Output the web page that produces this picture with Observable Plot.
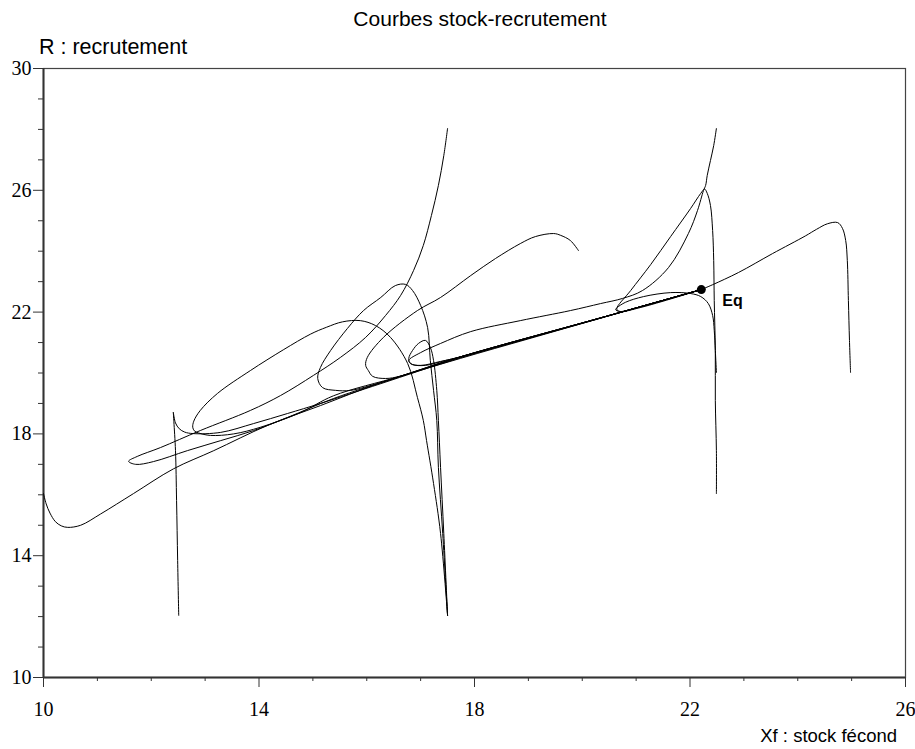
<!DOCTYPE html>
<html><head><meta charset="utf-8">
<script src="https://cdn.jsdelivr.net/npm/d3@7"></script>
<script src="https://cdn.jsdelivr.net/npm/@observablehq/plot@0.6"></script>
<style>body{margin:0;background:#fff} svg{display:block}</style>
</head><body><div id="chart"></div>
<script>
// Tick values
const xMajor = [10, 14, 18, 22, 26];
const yMajor = [10, 14, 18, 22, 26, 30];
const xMinor = [11, 12, 13, 15, 16, 17, 19, 20, 21, 23, 24, 25];
const yMinor = [11, 12, 13, 15, 16, 17, 19, 20, 21, 23, 24, 25, 27, 28, 29];
const eqPoint = [[22.21, 22.74]];

// Trajectories (Xf, R)
const trajA = [[10.00,16.04],[10.05,15.70],[10.12,15.40],[10.22,15.12],[10.33,14.98],[10.45,14.93],[10.69,15.00],[11.06,15.37],[11.67,16.04],[12.41,16.85],[13.16,17.45],[14.16,18.28],[15.14,18.93],[16.26,19.68],[17.74,20.48],[19.00,21.12],[20.34,21.80],[22.21,22.74]];
const trajB1 = [[12.51,12.04],[12.49,13.84],[12.47,15.81],[12.45,17.45],[12.42,18.40],[12.41,18.70]];
const trajB2 = [[12.41,18.70],[12.45,18.36],[12.52,18.17],[12.62,18.06],[12.78,18.01],[13.29,18.05],[13.90,18.34],[14.53,18.67],[15.14,19.00],[16.26,19.65],[17.74,20.50],[20.34,21.80],[22.21,22.74]];
const trajC = [[17.50,12.04],[17.37,14.73],[17.24,16.37],[17.11,17.78],[17.05,18.44],[16.94,19.20],[16.76,20.31],[16.44,21.17],[16.16,21.56],[15.88,21.72],[15.55,21.68],[15.25,21.50],[14.96,21.28],[14.45,20.76],[13.84,20.08],[13.23,19.33],[12.91,18.77],[12.79,18.42],[12.77,18.22],[12.80,18.10],[12.88,18.03],[13.10,17.95],[13.53,18.00],[14.03,18.22],[14.77,18.70],[15.38,19.25],[16.63,19.90],[17.74,20.53],[20.34,21.81],[22.21,22.74]];
const trajD = [[17.50,12.04],[17.41,14.73],[17.33,16.90],[17.30,18.44],[17.24,19.43],[17.18,20.41],[17.13,21.49],[17.00,22.22],[16.85,22.71],[16.72,22.91],[16.53,22.87],[16.26,22.48],[15.94,22.05],[15.64,21.46],[15.33,20.74],[15.14,20.18],[15.09,19.82],[15.18,19.52],[15.42,19.43],[15.70,19.43],[16.26,19.69],[17.74,20.53],[20.34,21.81],[22.21,22.74]];
const trajE = [[17.50,12.04],[17.43,14.73],[17.37,16.90],[17.33,18.44],[17.30,19.43],[17.24,20.41],[17.18,20.84],[17.09,21.07],[16.96,20.97],[16.85,20.74],[16.78,20.48],[16.81,20.31],[17.00,20.25],[17.37,20.38],[17.74,20.53],[20.34,21.81],[22.21,22.74]];
const trajF = [[17.50,28.03],[17.43,27.14],[17.33,26.16],[17.20,25.17],[17.05,24.19],[16.87,23.37],[16.63,22.55],[16.35,21.89],[15.98,21.17],[15.51,20.51],[15.01,19.92],[14.40,19.26],[13.84,18.77],[12.91,18.11],[12.17,17.55],[11.74,17.26],[11.58,17.10],[11.71,17.00],[12.04,17.09],[12.67,17.45],[13.29,17.78],[13.90,18.11],[14.53,18.54],[15.38,19.16],[16.63,19.89],[17.74,20.53],[20.34,21.81],[22.21,22.74]];
const trajG = [[19.93,24.02],[19.78,24.35],[19.60,24.52],[19.47,24.58],[19.13,24.48],[18.85,24.25],[18.39,23.76],[17.93,23.20],[17.37,22.48],[16.94,22.05],[16.31,21.17],[16.01,20.51],[15.98,20.25],[16.03,20.08],[16.11,19.89],[16.35,19.82],[16.63,19.90],[17.74,20.53],[20.34,21.81],[22.21,22.74]];
const trajH = [[22.49,28.03],[22.44,27.47],[22.38,26.98],[22.32,26.49],[22.29,26.16],[22.25,25.99],[22.14,25.34],[21.97,24.58],[21.60,23.46],[21.12,22.71],[20.75,22.45],[20.34,22.28],[19.78,22.05],[18.85,21.72],[17.93,21.36],[17.37,20.97],[17.00,20.67],[16.78,20.41],[16.85,20.28],[17.09,20.25],[17.46,20.41],[17.74,20.53],[20.34,21.81],[22.21,22.74]];
const trajI = [[22.49,16.04],[22.49,17.45],[22.47,19.10],[22.47,20.74],[22.45,22.38],[22.44,23.69],[22.42,24.68],[22.38,25.50],[22.32,25.90],[22.27,26.04],[22.20,25.90],[22.01,25.40],[21.64,24.48],[21.27,23.56],[20.90,22.71],[20.64,22.10],[20.70,22.02],[21.08,22.15],[22.21,22.74]];
const trajJ = [[22.49,20.02],[22.47,20.74],[22.45,21.40],[22.42,21.89],[22.34,22.28],[22.20,22.51],[22.01,22.61],[21.64,22.64],[21.14,22.51],[20.80,22.32],[20.65,22.15],[20.62,22.08],[20.70,22.02],[21.10,22.18],[22.21,22.74]];
const trajK = [[24.98,20.02],[24.96,21.07],[24.94,22.38],[24.92,23.69],[24.89,24.35],[24.83,24.75],[24.74,24.94],[24.55,24.90],[24.35,24.72],[24.14,24.50],[23.53,23.92],[22.90,23.30],[22.42,22.90],[22.21,22.74]];

const trajectories = {trajA, trajB1, trajB2, trajC, trajD, trajE, trajF, trajG, trajH, trajI, trajJ, trajK};
const rows = Object.entries(trajectories).flatMap(([id, pts]) => pts.map(([x, y]) => ({id, x, y})));

const serif = "'Liberation Serif', 'Times New Roman', serif";
const sans = "'Liberation Sans', Arial, Helvetica, sans-serif";

const chart = Plot.plot({
  width: 915, height: 749,
  marginLeft: 43, marginRight: 10, marginTop: 68, marginBottom: 72,
  style: {background: "#fff", fontFamily: serif, fontSize: "20px", color: "#000"},
  x: {domain: [10, 26]},
  y: {domain: [10, 30]},
  marks: [
    Plot.frame({stroke: "#444", strokeWidth: 1.2}),
    Plot.axisX({ticks: xMajor, tickSize: 10, tickPadding: 14, label: null, stroke: "#333", fontSize: 20, fontFamily: serif}),
    Plot.axisX({ticks: xMinor, tickSize: 4, tickFormat: () => "", label: null, stroke: "#333"}),
    Plot.axisY({ticks: yMajor, tickSize: 10, tickPadding: 2, label: null, stroke: "#333", fontSize: 20, fontFamily: serif}),
    Plot.axisY({ticks: yMinor, tickSize: 5, tickFormat: () => "", label: null, stroke: "#333"}),
    Plot.ruleY([10], {stroke: "#333", strokeWidth: 2}),
    Plot.ruleX([10], {stroke: "#333", strokeWidth: 2}),
    Plot.line(rows, {x: "x", y: "y", z: "id", curve: "catmull-rom", stroke: "#000", strokeWidth: 1}),
    Plot.dot(eqPoint, {x: d => d[0], y: d => d[1], r: 4.5, fill: "#000", stroke: null}),
    Plot.text(eqPoint, {x: d => d[0], y: d => d[1], text: () => "Eq", dx: 21, dy: 11, textAnchor: "start", fontWeight: "bold", fontSize: 16, fontFamily: sans, fill: "#000"})
  ]
});

const svg = d3.select(chart);
svg.append("text").attr("x", 480).attr("y", 26).attr("text-anchor", "middle")
  .style("font-family", sans).style("font-size", "21px").attr("fill", "#000").text("Courbes stock-recrutement");
svg.append("text").attr("x", 39).attr("y", 54).attr("text-anchor", "start")
  .style("font-family", sans).style("font-size", "21.5px").attr("fill", "#000").text("R : recrutement");
svg.append("text").attr("x", 897).attr("y", 742).attr("text-anchor", "end")
  .style("font-family", sans).style("font-size", "18.5px").attr("fill", "#000").text("Xf : stock fécond");

document.getElementById("chart").appendChild(chart);
</script>
</body></html>
